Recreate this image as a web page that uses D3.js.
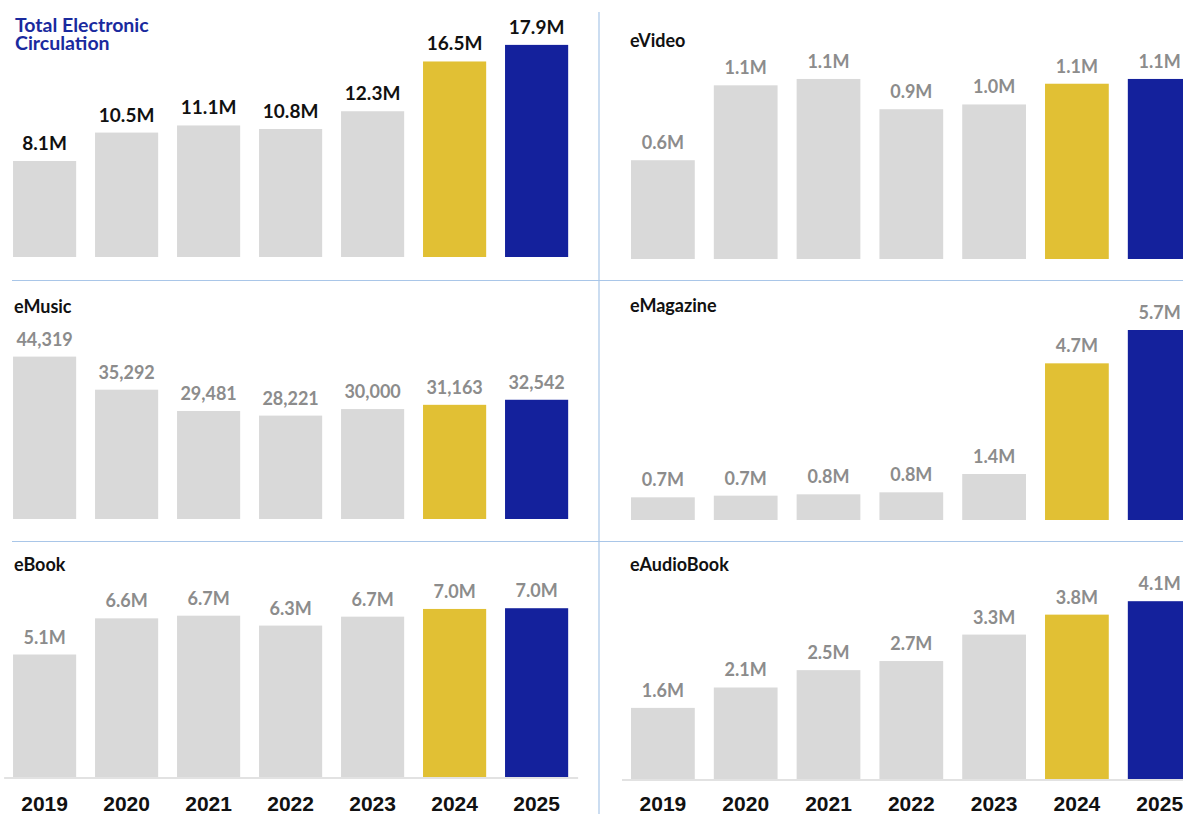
<!DOCTYPE html>
<html>
<head>
<meta charset="utf-8">
<script src="https://cdn.jsdelivr.net/npm/d3@7"></script>
<style>
  html, body { margin: 0; padding: 0; background: #ffffff; }
  svg { display: block; }
</style>
</head>
<body>
<svg id="chart" width="1183" height="814"></svg>
<script>
// Years shown on every panel
const years = ["2019", "2020", "2021", "2022", "2023", "2024", "2025"];

// Circulation per format (M = millions; eMusic is a raw count)
const totalValues      = [8.1, 10.5, 11.1, 10.8, 12.3, 16.5, 17.9];
const eVideoValues     = [0.62, 1.09, 1.13, 0.94, 0.97, 1.10, 1.13];
const eMusicValues     = [44319, 35292, 29481, 28221, 30000, 31163, 32542];
const eMagazineValues  = [0.68, 0.73, 0.77, 0.83, 1.38, 4.7, 5.7];
const eBookValues      = [5.08, 6.58, 6.69, 6.28, 6.65, 6.97, 7.0];
const eAudioBookValues = [1.64, 2.11, 2.51, 2.72, 3.33, 3.79, 4.1];

// Panel titles
const panelTitles = ["Total Electronic Circulation", "eVideo", "eMusic", "eMagazine", "eBook", "eAudioBook"];

const GRAY = "#d9d9d9", GOLD = "#e1c034", NAVY = "#14219c";
const barColor = y => y === "2025" ? NAVY : (y === "2024" ? GOLD : GRAY);

const fmtM = v => d3.format(".1f")(v) + "M";
const fmtCount = d3.format(",");

const svg = d3.select("#chart");

// Column x-scales (band scales spanning each column's axis extent)
const xLeft = d3.scaleBand().domain(years).range([3.6, 577.6]).paddingInner(0.23).paddingOuter(0.115);
const xRight = d3.scaleBand().domain(years).range([621.5, 1201.1]).paddingInner(0.23).paddingOuter(0.115);

const panels = [
  { title: panelTitles[0], values: totalValues, fmt: fmtM, x: xLeft, yMax: 20, base: 257, top: 20,
    labelColor: "#111111", labelSize: 19, titleColor: "#1a2a9e", titleSize: 19.5,
    titleLines: ["Total Electronic", "Circulation"], tx: 15, ty: 31.5 },
  { title: panelTitles[1], values: eVideoValues, fmt: fmtM, x: xRight, yMax: 1.5, base: 259, top: 20,
    labelColor: "#8c8c8c", titleColor: "#111111", tx: 630, ty: 46.5 },
  { title: panelTitles[2], values: eMusicValues, fmt: fmtCount, x: xLeft, yMax: 62500, base: 519, top: 290,
    labelColor: "#8c8c8c", titleColor: "#111111", tx: 14, ty: 312.5 },
  { title: panelTitles[3], values: eMagazineValues, fmt: fmtM, x: xRight, yMax: 6.9, base: 520, top: 290,
    labelColor: "#8c8c8c", titleColor: "#111111", tx: 630, ty: 312 },
  { title: panelTitles[4], values: eBookValues, fmt: fmtM, x: xLeft, yMax: 9, base: 777, top: 560,
    labelColor: "#8c8c8c", titleColor: "#111111", tx: 14, ty: 571, axis: true },
  { title: panelTitles[5], values: eAudioBookValues, fmt: fmtM, x: xRight, yMax: 5.05, base: 779, top: 560,
    labelColor: "#8c8c8c", titleColor: "#111111", tx: 630, ty: 571, axis: true }
];

// Light-blue dividers between panels
const divider = svg.append("g").attr("stroke", "#a9c6e8").attr("stroke-width", 1.2);
divider.append("line").attr("x1", 599).attr("x2", 599).attr("y1", 12).attr("y2", 814);
divider.append("line").attr("x1", 12).attr("x2", 1183).attr("y1", 280.5).attr("y2", 280.5);
divider.append("line").attr("x1", 12).attr("x2", 1183).attr("y1", 541.5).attr("y2", 541.5);

const YEAR_BASELINE = 811;

panels.forEach(p => {
  const g = svg.append("g");
  const y = d3.scaleLinear().domain([0, p.yMax]).range([p.base, p.top]);
  const rows = years.map((yr, i) => ({ year: yr, value: p.values[i] }));

  g.selectAll("rect.bar").data(rows).join("rect")
    .attr("class", "bar")
    .attr("x", d => p.x(d.year))
    .attr("width", p.x.bandwidth())
    .attr("y", d => y(d.value))
    .attr("height", d => y(0) - y(d.value))
    .attr("fill", d => barColor(d.year));

  g.selectAll("text.val").data(rows).join("text")
    .attr("class", "val")
    .attr("x", d => p.x(d.year) + p.x.bandwidth() / 2)
    .attr("y", d => y(d.value) - 11)
    .attr("text-anchor", "middle")
    .attr("font-family", "Lato, 'Open Sans', sans-serif")
    .attr("font-weight", 700)
    .attr("font-size", p.labelSize || 18)
    .attr("fill", p.labelColor)
    .text(d => p.fmt(d.value));

  const lines = p.titleLines || [p.title];
  const t = g.append("text")
    .attr("x", p.tx).attr("y", p.ty)
    .attr("font-family", "Lato, 'Open Sans', sans-serif")
    .attr("font-weight", 700)
    .attr("font-size", p.titleSize || 18)
    .attr("fill", p.titleColor);
  lines.forEach((ln, i) => t.append("tspan").attr("x", p.tx).attr("dy", i === 0 ? 0 : 18.5).text(ln));

  if (p.axis) {
    const ax = g.append("g")
      .attr("transform", `translate(0,${p.base + 0.5})`)
      .call(d3.axisBottom(p.x).tickSize(0));
    ax.select(".domain").attr("stroke", "#d9d9d9").attr("stroke-width", 1.5);
    ax.selectAll(".tick text")
      .attr("y", YEAR_BASELINE - p.base - 0.5)
      .attr("dy", 0)
      .attr("font-family", "'Liberation Sans', Arial, sans-serif")
      .attr("font-weight", 700)
      .attr("font-size", 21)
      .attr("fill", "#111111");
  }
});
</script>
</body>
</html>
